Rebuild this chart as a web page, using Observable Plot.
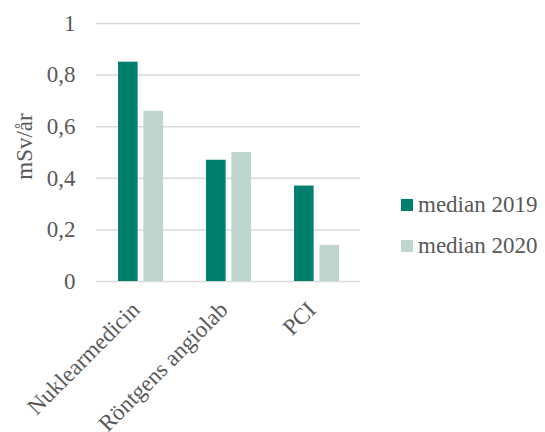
<!DOCTYPE html>
<html>
<head>
<meta charset="utf-8">
<script src="https://cdn.jsdelivr.net/npm/d3@7"></script>
<script src="https://cdn.jsdelivr.net/npm/@observablehq/plot@0.6"></script>
<style>
  html, body { margin: 0; padding: 0; background: #fff; }
  #wrap { position: relative; width: 545px; height: 432px; font-family: "Liberation Serif", "Times New Roman", serif; }
  .legend { position: absolute; left: 401px; color: #595959; font-size: 23px; display: flex; align-items: center; }
  .legend span.sw { display: inline-block; width: 12px; height: 12px; margin-right: 5px; }
</style>
</head>
<body>
<div id="wrap"></div>
<script>
const categories = ["Nuklearmedicin", "Röntgens angiolab", "PCI"];
const median2019 = [0.85, 0.47, 0.37];
const median2020 = [0.66, 0.50, 0.14];
const seriesNames = ["median 2019", "median 2020"];
const seriesColors = ["#007F6E", "#BED6CE"];
const yTicks = [0, 0.2, 0.4, 0.6, 0.8, 1];
const yLabel = "mSv/år";

const fmt = d => String(d).replace(".", ",");

const chart = Plot.plot({
  width: 545,
  height: 432,
  marginLeft: 96,
  marginRight: 185,
  marginTop: 23,
  marginBottom: 151,
  style: { fontFamily: "'Liberation Serif', 'Times New Roman', serif", fontSize: "23px", color: "#595959", background: "#fff" },
  x: { domain: categories, paddingInner: 0.49, paddingOuter: 0.245 },
  y: { domain: [0, 1] },
  marks: [
    Plot.ruleY(yTicks, { stroke: "#d9d9d9", strokeWidth: 1.5 }),
    Plot.barY(categories, { x: d => d, y: (d, i) => median2019[i], fill: seriesColors[0], insetRight: 25.4 }),
    Plot.barY(categories, { x: d => d, y: (d, i) => median2020[i], fill: seriesColors[1], insetLeft: 25.4 }),
    Plot.axisY(yTicks, { tickSize: 0, tickPadding: 21, tickFormat: fmt, label: null, fill: "#595959" }),
    Plot.text([yLabel], { frameAnchor: "left", textAnchor: "middle", rotate: -90, dx: -72, dy: -6, fontSize: 23, fill: "#595959" }),
    Plot.axisX({ tickSize: 0, tickRotate: -45, tickPadding: 24.5, dx: -5, label: null, fill: "#595959" })
  ]
});

const wrap = document.getElementById("wrap");
wrap.appendChild(chart);
const tops = [192, 233];
seriesNames.forEach((name, i) => {
  const d = document.createElement("div");
  d.className = "legend";
  d.style.top = tops[i] + "px";
  d.innerHTML = `<span class="sw" style="background:${seriesColors[i]}"></span>${name}`;
  wrap.appendChild(d);
});
</script>
</body>
</html>
